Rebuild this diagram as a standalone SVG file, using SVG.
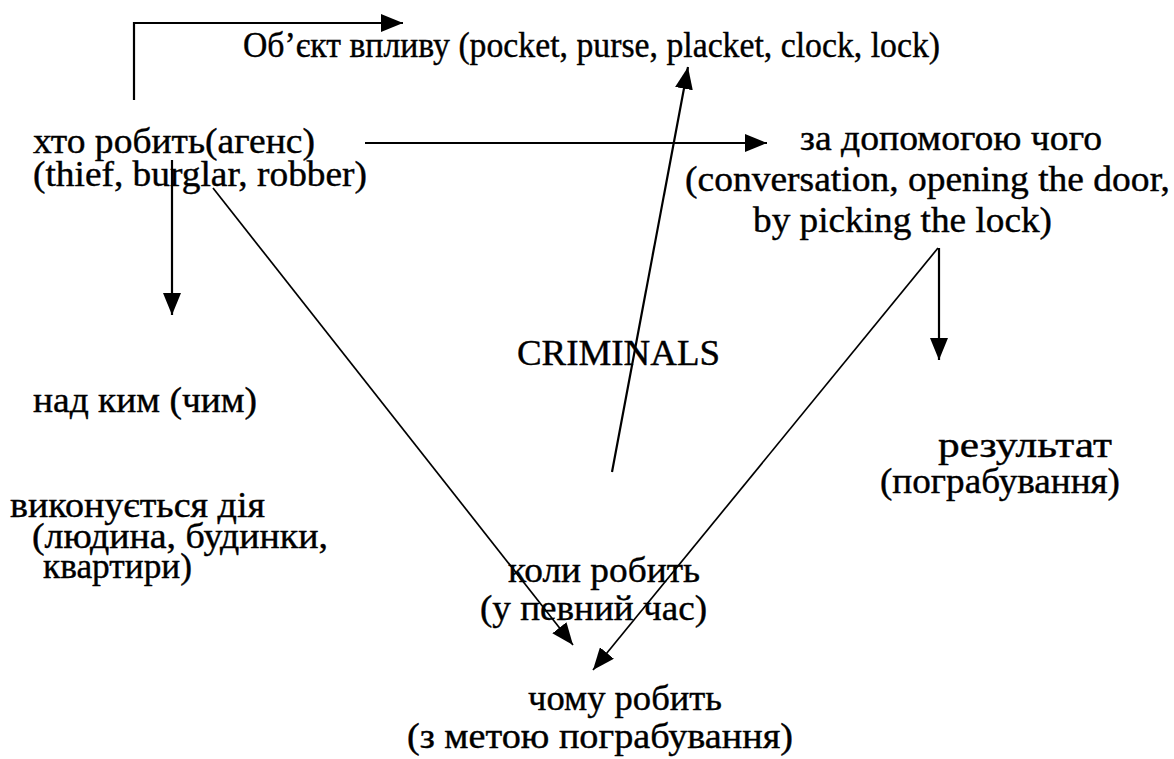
<svg xmlns="http://www.w3.org/2000/svg" width="1174" height="759" viewBox="0 0 1174 759">
  <style>
    text { font-family: 'Liberation Serif', 'Times New Roman', serif; font-size: 36px; fill: #000; stroke: #000; stroke-width: 0.4; }
    .wire { fill: none; stroke: #000; stroke-width: 2.2; }
    .thin { fill: none; stroke: #000; stroke-width: 1.7; }
  </style>
  <defs>
    <marker id="head" markerUnits="userSpaceOnUse" markerWidth="23" markerHeight="18" refX="22" refY="9" orient="auto">
      <path d="M0,0 L22,9 L0,18 z" fill="#000"/>
    </marker>
  </defs>
  <rect width="1174" height="759" fill="#fff"/>

  <!-- arrows between the roles -->
  <g id="connectors">
    <polyline class="wire" points="134,100 134,23 403,23" marker-end="url(#head)"/>
    <line class="wire" x1="365" y1="143" x2="767" y2="143" marker-end="url(#head)"/>
    <line class="wire" x1="172" y1="160" x2="172" y2="315" marker-end="url(#head)"/>
    <line class="thin" x1="213" y1="188" x2="573" y2="645" marker-end="url(#head)"/>
    <line class="wire" x1="612" y1="472" x2="688" y2="67" marker-end="url(#head)"/>
    <line class="thin" x1="938" y1="248" x2="593" y2="670" marker-end="url(#head)"/>
    <line class="wire" x1="939" y1="248" x2="939" y2="360" marker-end="url(#head)"/>
  </g>

  <g id="object">
    <text x="243" y="57" textLength="697" lengthAdjust="spacingAndGlyphs">Об’єкт впливу (pocket, purse, placket, clock, lock)</text>
  </g>
  <g id="agent">
    <text x="33" y="153" textLength="282" lengthAdjust="spacingAndGlyphs">хто робить(агенс)</text>
    <text x="33" y="186" textLength="334" lengthAdjust="spacingAndGlyphs">(thief, burglar, robber)</text>
  </g>
  <g id="means">
    <text x="800" y="150" textLength="302" lengthAdjust="spacingAndGlyphs">за допомогою чого</text>
    <text x="685" y="191" textLength="485" lengthAdjust="spacingAndGlyphs">(conversation, opening the door,</text>
    <text x="753" y="232" textLength="299" lengthAdjust="spacingAndGlyphs">by picking the lock)</text>
  </g>
  <g id="center">
    <text x="517" y="365" textLength="203" lengthAdjust="spacingAndGlyphs">CRIMINALS</text>
  </g>
  <g id="patient">
    <text x="33" y="412" textLength="224" lengthAdjust="spacingAndGlyphs">над ким (чим)</text>
    <text x="10" y="517" textLength="255" lengthAdjust="spacingAndGlyphs">виконується дія</text>
    <text x="32" y="548" textLength="296" lengthAdjust="spacingAndGlyphs">(людина, будинки,</text>
    <text x="43" y="578" textLength="149" lengthAdjust="spacingAndGlyphs">квартири)</text>
  </g>
  <g id="result">
    <text x="938" y="457" textLength="174" lengthAdjust="spacingAndGlyphs">результат</text>
    <text x="880" y="493" textLength="240" lengthAdjust="spacingAndGlyphs">(пограбування)</text>
  </g>
  <g id="time">
    <text x="508" y="582" textLength="192" lengthAdjust="spacingAndGlyphs">коли робить</text>
    <text x="480" y="620" textLength="227" lengthAdjust="spacingAndGlyphs">(у певний час)</text>
  </g>
  <g id="purpose">
    <text x="528" y="710" textLength="194" lengthAdjust="spacingAndGlyphs">чому робить</text>
    <text x="407" y="748" textLength="386" lengthAdjust="spacingAndGlyphs">(з метою пограбування)</text>
  </g>
</svg>
